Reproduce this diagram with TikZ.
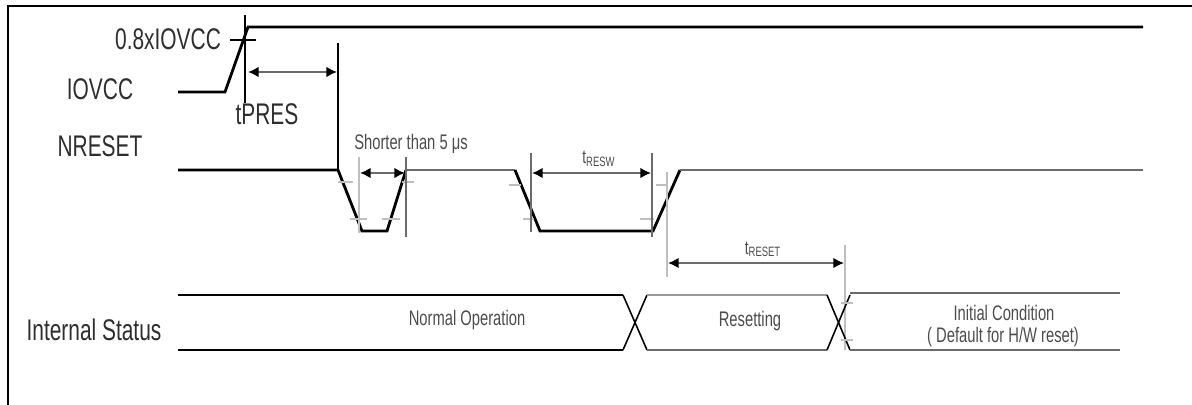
\documentclass[tikz,border=0pt]{standalone}
\usepackage{fontspec}
\setmainfont{Liberation Sans}[FakeStretch=0.70]
\usetikzlibrary{arrows.meta}
\definecolor{dgrey}{gray}{0.42}
\definecolor{mgrey}{gray}{0.6}
\definecolor{lgrey}{gray}{0.75}
\definecolor{txtdark}{gray}{0.18}
\definecolor{txtgrey}{gray}{0.3}
\begin{document}
\begin{tikzpicture}[x=0.02cm,y=-0.02cm,
  frame/.style={line width=1.7pt,black},
  sig/.style={line width=1.6pt,black,line join=miter},
  sigd/.style={line width=1.4pt,dgrey},
  sigm/.style={line width=1.4pt,mgrey},
  xline/.style={line width=0.9pt,black},
  guide/.style={line width=0.8pt,dgrey},
  guidel/.style={line width=0.8pt,lgrey},
  tick/.style={line width=0.8pt,lgrey},
  dim/.style={line width=1.1pt,dgrey,
    {Latex[length=6pt,width=6pt,color=black]}-{Latex[length=6pt,width=6pt,color=black]}},
  big/.style={font=\fontsize{17}{20}\selectfont,text=txtdark,inner sep=0pt,anchor=base},
  small/.style={font=\fontsize{12}{14}\selectfont,text=txtgrey,inner sep=0pt,anchor=base},
  tiny/.style={font=\fontsize{11}{13}\selectfont,text=txtgrey,inner sep=0pt,anchor=base}
]
\useasboundingbox (0,0) rectangle (1192,405);

% frame
\draw[frame] (8,405) -- (8,6) -- (1192,6);

% labels
\node[big] (lvl)    at (168,50)  {0.8xIOVCC};
\node[big] (iovcc)  at (100,100) {IOVCC};
\node[big] (tpres)  at (267,125) {tPRES};
\node[big] (nreset) at (100,157) {NRESET};
\node[big] (istat)  at (94,340)  {Internal Status};

% IOVCC waveform
\draw[sig] (178,92) -- (225,92) -- (248,27) -- (1143,27);
\coordinate (vt1) at (245,15);  \coordinate (vt2) at (245,103);
\coordinate (ht1) at (230,40);  \coordinate (ht2) at (256,40);
\draw[line width=1pt] (vt1) -- (vt2);
\draw[line width=1pt] (ht1) -- (ht2);

% tPRES
\coordinate (pv1) at (338,43); \coordinate (pv2) at (338,170);
\draw[line width=1pt] (pv1) -- (pv2);
\coordinate (pa1) at (248,72); \coordinate (pa2) at (337,72);
\draw[dim] (pa1) -- (pa2);

% NRESET waveform
\draw[sig] (178,170) -- (338,170) -- (362,231) -- (387,231) -- (406,170);
\draw[sigd] (406,170) -- (515,170);
\draw[sig] (515,170) -- (540,231) -- (653,231) -- (680,170);
\draw[sigd] (680,170) -- (1143,170);

% 10%/90% ticks
\draw[tick] (338,182) -- (353,182);
\draw[tick] (350,219) -- (367,219);
\draw[tick] (382,219) -- (400,219);
\draw[tick] (402,182) -- (414,182);
\draw[tick] (509,185) -- (521,185);
\draw[tick] (523,219) -- (534,219);
\draw[tick] (640,219) -- (654,219);
\draw[tick] (656,185) -- (668,185);

% Shorter than 5 us
\node[small] (short) at (411,150) {Shorter than 5 μs};
\coordinate (s1t) at (359,157); \coordinate (s1b) at (359,233);
\coordinate (s2t) at (406,157); \coordinate (s2b) at (406,237);
\draw[guidel] (s1t) -- (s1b);
\draw[guide] (s2t) -- (s2b);
\coordinate (sa1) at (360,173); \coordinate (sa2) at (405,173);
\draw[dim] (sa1) -- (sa2);

% tRESW
\node[tiny] (tresw) at (599,164) {t\textsubscript{RESW}};
\coordinate (w1t) at (531,153); \coordinate (w1b) at (531,232);
\coordinate (w2t) at (652,153); \coordinate (w2b) at (652,237);
\draw[guide] (w1t) -- (w1b);
\draw[guide] (w2t) -- (w2b);
\coordinate (wa1) at (532,173); \coordinate (wa2) at (651,173);
\draw[dim] (wa1) -- (wa2);

% tRESET
\node[tiny] (treset) at (763,254) {t\textsubscript{RESET}};
\coordinate (r1t) at (667,172); \coordinate (r1b) at (667,277);
\coordinate (r2t) at (845,245); \coordinate (r2b) at (845,350);
\draw[guidel] (r1t) -- (r1b);
\draw[guidel] (r2t) -- (r2b);
\coordinate (ra1) at (668,263); \coordinate (ra2) at (844,263);
\draw[dim] (ra1) -- (ra2);

% Internal status band
\draw[sig] (178,295) -- (623,295);
\draw[sig] (178,350) -- (623,350);
\draw[xline] (623,295) -- (647,350);
\draw[xline] (623,350) -- (647,295);
\draw[sigm] (647,295) -- (827,295);
\draw[sigd] (647,350) -- (827,350);
\draw[xline] (827,295) -- (850,350);
\draw[xline] (827,350) -- (850,295);
\draw[sigd] (850,293) -- (1120,293);
\draw[sigd] (850,350) -- (1120,350);
\draw[tick] (841,303) -- (853,303);
\draw[tick] (841,340) -- (853,340);

\node[small] (normal) at (467,325) {Normal Operation};
\node[small] (reset)  at (750,326) {Resetting};
\node[small] (init1)  at (1004,320) {Initial Condition};
\node[small] (init2)  at (1003,342) {( Default for H/W reset)};
\end{tikzpicture}
\end{document}
